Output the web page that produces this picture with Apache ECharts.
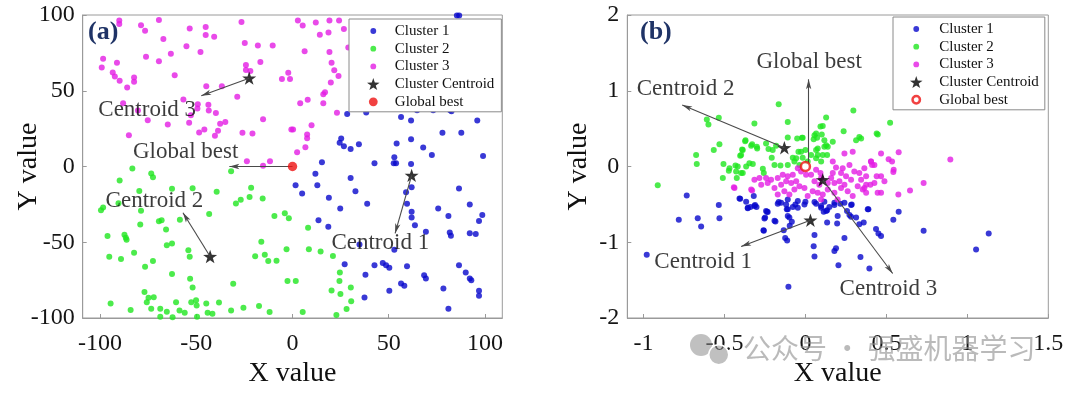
<!DOCTYPE html>
<html><head><meta charset="utf-8">
<script src="https://cdn.jsdelivr.net/npm/echarts@6/dist/echarts.min.js"></script>
<style>html,body{margin:0;padding:0;background:#fff}#c{width:1080px;height:393px}</style>
</head><body><div id="c"></div>
<script>
// ---------- tick labels ----------
const xTicksA = [-100, -50, 0, 50, 100];
const yTicksA = [-100, -50, 0, 50, 100];
const xTicksB = [-1, -0.5, 0, 0.5, 1, 1.5];
const yTicksB = [-2, -1, 0, 1, 2];
const legendNames = ['Cluster 1', 'Cluster 2', 'Cluster 3', 'Cluster Centroid', 'Global best'];

// ---------- panel (a) data ----------
const cluster1A = [[85.4,99.6],[86.6,99.6],[28.4,34.6],[38.3,35.6],[56.4,32.6],[61.6,30.4],[96.0,30.4],[77.9,22.2],[87.7,22.2],[99.0,6.9],[72.4,7.6],[67.9,12.6],[61.6,18.0],[54.1,15.2],[52.9,6.1],[53.8,2.2],[52.6,2.2],[42.6,2.2],[34.5,14.7],[30.2,11.5],[26.7,13.4],[24.5,15.6],[25.3,18.5],[15.3,2.8],[11.9,-4.8],[61.6,1.7],[64.7,37.2],[73.1,37.2],[81.9,37.2],[82.6,36.5],[61.9,-13.7],[59.0,-17.0],[1.6,-12.4],[5.0,-17.9],[12.9,-12.4],[30.2,-7.6],[32.7,-16.3],[18.9,-20.7],[24.8,-27.7],[38.8,-24.6],[59.5,-24.6],[61.9,-29.8],[61.9,-33.7],[63.6,-38.7],[69.3,-43.1],[75.7,-27.7],[81.0,-32.6],[81.7,-43.5],[82.3,-45.7],[86.5,-14.6],[92.1,-25.0],[98.6,-32.0],[96.9,-35.9],[92.1,-44.0],[95.2,-44.6],[13.5,-35.5],[18.6,-39.8],[34.8,-51.5],[52.9,-55.0],[27.1,-64.6],[42.6,-65.2],[46.9,-63.7],[48.6,-65.2],[50.3,-66.8],[59.5,-65.9],[37.9,-71.4],[56.4,-77.2],[58.1,-78.7],[50.3,-82.0],[37.4,-86.4],[68.4,-71.8],[69.3,-74.0],[81.0,-93.9],[86.5,-65.2],[90.0,-70.0],[92.1,-74.0],[92.9,-75.0],[96.9,-82.0],[96.9,-85.3],[78.4,-80.5]];
const cluster2A = [[-83.2,-1.4],[-89.8,-9.2],[-73.4,-4.7],[-72.5,-7.1],[-79.6,-16.2],[-99.5,-28.8],[-98.4,-27.0],[-90.4,-24.2],[-78.7,-29.2],[-79.1,-38.3],[-96.1,-45.9],[-87.3,-45.1],[-86.6,-47.0],[-86.2,-48.3],[-95.2,-59.6],[-89.1,-61.1],[-82.3,-57.0],[-76.6,-66.1],[-72.5,-62.4],[-69.4,-36.2],[-65.7,-41.6],[-65.3,-52.0],[-62.6,-50.9],[-68.0,-35.5],[-58.5,-35.1],[-62.6,-14.7],[-51.9,-14.4],[-43.3,-31.4],[-39.4,-16.6],[-31.9,-3.1],[-29.4,-24.4],[-26.9,-22.0],[-22.3,-20.1],[-21.5,-14.0],[-15.5,-21.2],[-4.0,-30.9],[-1.9,-34.2],[-9.4,-32.7],[-16.2,-49.6],[-14.4,-58.3],[-12.6,-62.4],[-8.3,-62.2],[-3.1,-54.6],[8.1,-40.5],[8.5,-54.6],[14.6,-56.1],[21.0,-59.0],[24.6,-70.0],[24.4,-75.5],[30.3,-79.8],[30.5,-88.9],[20.3,-81.8],[24.9,-84.1],[28.1,-94.1],[22.8,-98.0],[5.3,-96.1],[1.7,-75.5],[-2.6,-75.5],[-17.4,-92.0],[-11.9,-96.1],[-25.5,-93.3],[-31.9,-95.0],[-30.8,-77.4],[-38.2,-89.8],[-44.8,-90.4],[-52.6,-89.6],[-53.2,-74.1],[-51.9,-79.8],[-50.1,-88.3],[-49.8,-91.7],[-44.1,-96.5],[-41.6,-97.2],[-49.6,-99.1],[-56.0,-96.5],[-60.5,-89.6],[-58.7,-95.0],[-62.6,-70.9],[-65.3,-95.9],[-68.7,-93.9],[-68.7,-99.1],[-62.3,-99.5],[-73.4,-93.9],[-72.1,-86.3],[-74.8,-86.7],[-75.7,-89.6],[-76.9,-82.8],[-84.1,-94.8],[-94.5,-90.4],[-54.1,-55.3],[-53.4,-59.6],[-19.4,-59.2]];
const cluster3A = [[-90.0,96.3],[-90.0,94.1],[-78.7,93.2],[-76.6,89.6],[-69.4,96.7],[-53.4,91.1],[-45.1,92.0],[-45.1,86.8],[-40.7,85.7],[-26.5,95.4],[2.8,96.3],[5.3,93.1],[12.1,95.0],[19.2,96.3],[24.2,96.3],[26.7,90.7],[18.7,88.5],[-98.4,71.1],[-99.1,65.3],[-91.2,68.5],[-93.4,62.0],[-92.3,59.4],[-89.8,56.6],[-85.9,52.2],[-82.3,58.7],[-82.3,55.9],[-76.1,72.4],[-69.4,69.4],[-67.1,84.2],[-63.2,74.4],[-61.2,60.3],[-55.1,79.4],[-47.8,75.5],[-24.8,81.6],[-24.2,67.0],[-24.2,63.7],[-21.9,63.1],[-18.0,79.8],[-16.7,68.9],[-10.3,79.8],[-5.5,57.7],[-2.2,61.8],[-1.3,57.7],[6.3,76.1],[14.2,87.0],[19.2,75.5],[20.3,68.5],[21.7,63.5],[23.9,59.8],[19.9,55.5],[4.0,41.8],[7.9,44.0],[-28.7,46.1],[-36.7,52.9],[-44.8,52.9],[-56.7,44.2],[-49.2,41.1],[-49.4,38.3],[-43.7,40.7],[-43.5,37.0],[-39.8,35.3],[-52.8,33.8],[-37.6,28.3],[-45.8,24.4],[-34.9,29.4],[-64.8,27.7],[-75.2,30.5],[-85.0,20.7],[-48.5,22.5],[-40.3,20.3],[-38.7,23.6],[-53.7,28.8],[-26.0,22.3],[-15.3,31.2],[-20.8,21.8],[-0.6,24.4],[0.3,24.4],[7.6,21.2],[7.6,18.6],[9.9,27.3],[6.7,12.7],[2.4,9.4],[16.0,47.7],[16.9,49.0],[16.0,41.8],[23.1,35.5],[-11.7,3.4],[-15.3,0.5],[-23.7,3.4],[29.0,78.5],[-88.0,41.8],[-80.3,37.0]];
const centroidsA = [[61.9,-5.9],[-42.8,-59.4],[-22.5,58.3]];
const globalBestA = [[0,0]];
const arrowFromA = [[61.9,-5.9],[-42.8,-59.4],[-22.5,58.3],[0,0]];
const arrowToA = [[53.3,-44.2],[-56.9,-30.5],[-47.4,46.7],[-32.8,0]];
const noteTextA = ['Centroid 1','Centroid 2','Centroid 3','Global best'];
const notePosA = [[45.6,-50.7],[-71.7,-22.8],[-75.5,37.4],[-55.5,9.8]];

// ---------- panel (b) data ----------
const cluster1B = [[-0.980,-1.166],[-0.782,-0.704],[-0.733,-0.383],[-0.665,-0.683],[-0.644,-0.791],[-0.535,-0.508],[-0.531,-0.683],[-0.403,-0.426],[-0.366,-0.465],[-0.356,-0.544],[-0.319,-0.391],[-0.315,-0.522],[-0.243,-0.587],[-0.259,-0.840],[-0.185,-0.726],[-0.134,-0.840],[-0.125,-0.944],[-0.113,-0.978],[-0.105,-1.587],[-0.109,-0.652],[-0.097,-0.782],[-0.165,-0.470],[-0.119,-0.500],[-0.078,-0.535],[-0.047,-0.457],[-0.006,-0.500],[0.056,-0.905],[0.051,-1.052],[0.056,-1.187],[-0.237,-0.596],[-0.253,-0.687],[-0.257,-0.847],[-0.115,-0.566],[-0.099,-0.674],[-0.084,-0.730],[-0.171,-0.492],[-0.150,-0.479],[-0.062,-0.500],[0.000,-0.465],[0.056,-0.470],[0.097,-0.544],[0.113,-0.596],[0.134,-0.578],[0.148,-0.535],[0.117,-0.465],[0.179,-0.479],[0.216,-0.492],[0.286,-0.500],[0.257,-0.587],[0.282,-0.665],[0.313,-0.674],[0.333,-0.761],[0.360,-0.739],[0.389,-0.566],[0.436,-0.826],[0.451,-0.883],[0.467,-0.917],[0.134,-0.739],[0.196,-0.752],[0.199,-0.652],[0.241,-0.944],[0.189,-1.078],[0.179,-1.117],[0.340,-1.196],[0.395,-1.348],[0.204,-1.304],[0.576,-0.596],[0.543,-0.704],[0.730,-0.847],[1.132,-0.883],[1.054,-1.096],[-0.407,-0.422],[-0.311,-0.509],[-0.356,-0.552],[-0.233,-0.600],[-0.249,-0.674],[-0.109,-0.435],[-0.047,-0.544],[-0.109,-0.566],[0.066,-0.492],[0.097,-0.522],[0.128,-0.587],[0.179,-0.509],[0.272,-0.639],[0.241,-0.479],[0.282,-0.509],[-0.191,-0.717],[-0.340,-0.535],[-0.302,-0.535],[0.385,-0.566]];
const cluster2B = [[-0.165,0.821],[-0.609,0.621],[-0.599,0.555],[-0.535,0.643],[-0.315,0.569],[-0.109,0.587],[0.128,0.647],[0.296,0.738],[0.093,0.529],[0.056,0.412],[0.066,0.434],[-0.370,0.347],[-0.329,0.295],[-0.300,0.261],[-0.531,0.295],[-0.021,0.378],[-0.109,0.382],[-0.243,0.304],[-0.202,0.217],[-0.566,0.217],[-0.675,0.151],[-0.671,0.034],[-0.387,0.217],[-0.397,0.151],[0.117,0.347],[0.128,0.282],[0.169,0.326],[0.138,0.260],[0.313,0.347],[0.333,0.391],[0.440,0.434],[0.523,0.578],[0.447,0.421],[0.344,0.369],[0.236,0.465],[0.107,0.535],[0.101,0.421],[0.072,0.378],[0.051,0.360],[-0.912,-0.248],[-0.510,-0.153],[-0.473,-0.057],[-0.432,0.013],[-0.424,-0.153],[-0.387,-0.087],[-0.403,0.143],[-0.391,0.226],[-0.372,0.334],[-0.335,0.274],[-0.298,0.239],[-0.228,0.230],[-0.181,0.274],[-0.051,0.369],[-0.017,0.378],[0.000,0.217],[-0.043,0.196],[-0.078,0.117],[-0.017,0.117],[0.076,0.239],[0.117,0.261],[0.134,0.151],[0.107,0.151],[0.097,0.065],[0.066,0.108],[0.035,0.151],[0.014,0.065],[-0.037,0.021],[-0.068,0.065],[-0.109,0.021],[-0.154,0.013],[-0.191,0.021],[-0.208,0.117],[-0.263,-0.031],[-0.257,-0.087],[-0.418,0.000],[-0.346,0.043],[-0.397,-0.087],[-0.325,0.034],[-0.366,0.000],[-0.469,-0.022],[-0.506,0.034],[-0.428,-0.065],[0.076,0.151],[0.066,0.217],[-0.027,0.196],[-0.057,0.108]];
const cluster3B = [[0.241,0.173],[0.292,0.196],[0.467,0.173],[0.405,0.065],[0.426,0.021],[0.169,0.065],[0.189,-0.013],[0.230,-0.022],[0.272,0.021],[0.302,-0.065],[0.333,-0.087],[0.364,-0.022],[0.375,-0.130],[0.344,-0.175],[0.282,-0.175],[0.251,-0.130],[0.220,-0.087],[0.169,-0.087],[0.093,-0.087],[0.066,-0.044],[0.035,-0.109],[0.004,-0.109],[-0.027,-0.065],[-0.047,-0.022],[-0.078,-0.109],[-0.109,-0.130],[-0.140,-0.109],[-0.171,-0.153],[-0.212,-0.175],[-0.243,-0.153],[-0.284,-0.153],[-0.315,-0.175],[-0.335,-0.305],[-0.273,-0.240],[-0.233,-0.218],[-0.191,-0.283],[-0.171,-0.370],[-0.130,-0.326],[-0.099,-0.370],[-0.068,-0.305],[-0.037,-0.261],[-0.006,-0.283],[0.014,-0.391],[0.045,-0.326],[0.076,-0.348],[0.107,-0.370],[0.138,-0.305],[0.179,-0.348],[0.220,-0.283],[0.261,-0.326],[0.292,-0.391],[0.323,-0.261],[0.354,-0.305],[0.375,-0.348],[0.401,-0.240],[0.426,-0.218],[0.446,-0.348],[0.467,-0.130],[-0.119,-0.196],[-0.150,-0.240],[-0.088,-0.218],[-0.057,-0.196],[0.056,-0.196],[0.086,-0.240],[0.179,-0.218],[0.210,-0.196],[0.241,-0.240],[0.138,-0.218],[0.097,-0.153],[0.159,-0.153],[0.199,-0.435],[0.097,-0.435],[-0.438,-0.283],[-0.442,-0.274],[-0.329,-0.318],[0.576,0.187],[0.514,0.095],[0.535,0.065],[0.405,0.065],[0.412,0.021],[0.545,-0.044],[0.543,-0.074],[0.440,-0.130],[0.488,-0.196],[0.375,-0.240],[0.364,-0.283],[0.467,-0.348],[0.574,-0.370],[0.646,-0.318],[0.730,-0.218],[0.895,0.091]];
const centroidsB = [[0.031,-0.709],[-0.130,0.248],[0.107,-0.175]];
const globalBestB = [[0,0]];
const arrowFromB = [[0.031,-0.709],[-0.130,0.248],[0.107,-0.175],[0.02,0.05]];
const arrowToB = [[-0.397,-1.056],[-0.761,0.812],[0.539,-1.413],[0.02,1.151]];
const noteTextB = ['Centroid 1','Centroid 2','Centroid 3','Global best'];
const notePosB = [[-0.631,-1.261],[-0.740,1.030],[0.513,-1.622],[0.023,1.377]];

// ---------- styling ----------
const SERIF = 'Liberation Serif';
const COLORS = {c1:'#0808cc', c2:'#1fe61f', c3:'#e31de3', cen:'#000000', gb:'#ee1111'};
const STAR = 'path://M10,0L12.3,6.8L19.5,6.9L13.7,11.2L15.9,18.1L10,14L4.1,18.1L6.3,11.2L0.5,6.9L7.7,6.8Z';
const DOT_ICON = 'path://M0,0L0,0M12,12L12,12M3.1,6A2.9,2.9,0,1,1,8.9,6A2.9,2.9,0,1,1,3.1,6Z';
const GB_ICON = 'path://M0,0L0,0M12,12L12,12M1.6,6A4.4,4.4,0,1,1,10.4,6A4.4,4.4,0,1,1,1.6,6Z';
const RING_ICON = 'path://M0,0L0,0M12,12L12,12M2.3,6A3.7,3.7,0,1,1,9.7,6A3.7,3.7,0,1,1,2.3,6Z';

function xAxisDef(gi, min, max, ticks, nameGap) {
  return {
    type:'value', gridIndex:gi, min:min, max:max,
    name:'X value', nameLocation:'middle', nameGap:nameGap, nameMoveOverlap:false,
    nameTextStyle:{fontFamily:SERIF, fontSize:28, color:'#111'},
    axisLine:{onZero:false, lineStyle:{color:'#9a9a9a', width:1}},
    axisTick:{show:true, inside:true, length:4, customValues:ticks, lineStyle:{color:'#9a9a9a'}},
    axisLabel:{customValues:ticks, fontFamily:SERIF, fontSize:24, color:'#151515', margin:14},
    splitLine:{show:false}
  };
}
function yAxisDef(gi, min, max, ticks, nameGap) {
  return {
    type:'value', gridIndex:gi, min:min, max:max,
    name:'Y value', nameLocation:'middle', nameGap:nameGap, nameMoveOverlap:false,
    nameTextStyle:{fontFamily:SERIF, fontSize:28, color:'#111'},
    axisLine:{onZero:false, lineStyle:{color:'#9a9a9a', width:1}},
    axisTick:{show:true, inside:true, length:4, customValues:ticks, lineStyle:{color:'#9a9a9a'}},
    axisLabel:{customValues:ticks, fontFamily:SERIF, fontSize:24, color:'#151515', margin:8},
    splitLine:{show:false}
  };
}
function dots(name, data, color, gi) {
  return {type:'scatter', name:name, xAxisIndex:gi, yAxisIndex:gi, data:data,
    symbol:'circle', symbolSize:6, itemStyle:{color:color}, silent:true};
}
function panelSeries(gi, c1, c2, c3, cen, gb, from, to, noteText, notePos, ring) {
  const arrows = from.map((f,i) => [{coord:f}, {coord:to[i]}]);
  return [
    dots('Cluster 1', c1, COLORS.c1, gi),
    dots('Cluster 2', c2, COLORS.c2, gi),
    dots('Cluster 3', c3, COLORS.c3, gi),
    {type:'scatter', name:'Cluster Centroid', xAxisIndex:gi, yAxisIndex:gi, data:cen,
      symbol:STAR, symbolSize:14, symbolKeepAspect:true, itemStyle:{color:COLORS.cen}, silent:true, z:4,
      markLine:{silent:true, symbol:['none','arrow'], symbolSize:[4,10], label:{show:false},
        lineStyle:{color:'#4a4a4a', width:1.1, type:'solid'}, emphasis:{disabled:true},
        animation:false, data:arrows}},
    ring
      ? {type:'scatter', name:'Global best', xAxisIndex:gi, yAxisIndex:gi, data:gb, symbol:'circle', symbolSize:9,
          itemStyle:{color:'#ffffff', borderColor:COLORS.gb, borderWidth:2.5}, silent:true, z:5}
      : {type:'scatter', name:'Global best', xAxisIndex:gi, yAxisIndex:gi, data:gb, symbol:'circle', symbolSize:9.5,
          itemStyle:{color:COLORS.gb}, silent:true, z:5},
    {type:'scatter', name:'notes', xAxisIndex:gi, yAxisIndex:gi, silent:true, z:6,
      symbolSize:1, itemStyle:{color:'rgba(0,0,0,0)'},
      data: noteText.map((t,i) => ({name:t, value:notePos[i]})),
      label:{show:true, position:'inside', formatter:p => p.name, fontFamily:SERIF, fontSize:23, color:'#0a0a0a'}}
  ];
}
function legendDef(left, top, itemWidth, padding, ring) {
  return {
    orient:'vertical', left:left, top:top, itemWidth:itemWidth, itemHeight:12, itemGap:1.7,
    padding:padding, backgroundColor:'#ffffff', borderColor:'#8a8a8a', borderWidth:1, borderRadius:0,
    selectedMode:false, symbolKeepAspect:true,
    textStyle:{fontFamily:SERIF, fontSize:15, color:'#111', lineHeight:16},
    data:[
      {name:legendNames[0], icon:DOT_ICON, itemStyle:{color:COLORS.c1}},
      {name:legendNames[1], icon:DOT_ICON, itemStyle:{color:COLORS.c2}},
      {name:legendNames[2], icon:DOT_ICON, itemStyle:{color:COLORS.c3}},
      {name:legendNames[3], icon:STAR, itemStyle:{color:COLORS.cen}},
      ring
        ? {name:legendNames[4], icon:RING_ICON, itemStyle:{color:'#ffffff', borderColor:COLORS.gb, borderWidth:2.5}}
        : {name:legendNames[4], icon:GB_ICON, itemStyle:{color:COLORS.gb, borderWidth:0}}
    ]
  };
}

const chart = echarts.init(document.getElementById('c'), null, {renderer:'canvas'});
chart.setOption({
  animation:false,
  backgroundColor:'#ffffff',
  title:[
    {text:'(a)', left:88, top:19, padding:0, textStyle:{fontFamily:SERIF, fontSize:26, fontWeight:'bold', color:'#1f3366'}},
    {text:'(b)', left:640, top:19, padding:0, textStyle:{fontFamily:SERIF, fontSize:26, fontWeight:'bold', color:'#1f3366'}}
  ],
  grid:[
    {left:82.7, right:577.7, top:15, bottom:71, show:true, borderColor:'#9a9a9a', borderWidth:1, containLabel:false},
    {left:627.3, right:31.7, top:15, bottom:71, show:true, borderColor:'#9a9a9a', borderWidth:1, containLabel:false}
  ],
  xAxis:[xAxisDef(0, -109, 109, xTicksA, 42), xAxisDef(1, -1.1, 1.5, xTicksB, 42)],
  yAxis:[yAxisDef(0, -100, 100, yTicksA, 40), yAxisDef(1, -2, 2, yTicksB, 35)],
  legend:[legendDef(349, 19, 33, [4,7,2,18], false), legendDef(893, 17, 36, [4,6,2,16], true)],
  series:[].concat(
    panelSeries(0, cluster1A, cluster2A, cluster3A, centroidsA, globalBestA, arrowFromA, arrowToA, noteTextA, notePosA, false),
    panelSeries(1, cluster1B, cluster2B, cluster3B, centroidsB, globalBestB, arrowFromB, arrowToB, noteTextB, notePosB, true)
  ),
  graphic:[
    {type:'circle', left:690, top:334, shape:{r:11}, style:{fill:'rgba(140,140,140,0.55)'}, z:100, silent:true},
    {type:'circle', left:708, top:344, shape:{r:10}, style:{fill:'rgba(140,140,140,0.55)', stroke:'#fff', lineWidth:1.5}, z:100, silent:true},
    {type:'text', left:743, top:334, z:100, silent:true,
      style:{text:'公众号 · 强盛机器学习', font:'28px "Noto Sans CJK SC"', fill:'rgba(140,140,140,0.6)'}}
  ]
});
</script>
</body></html>
